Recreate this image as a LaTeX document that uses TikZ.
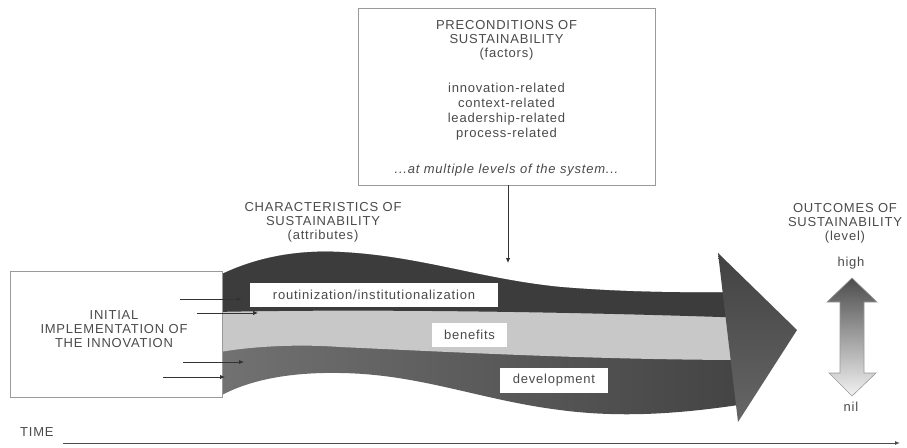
\documentclass[tikz,border=0pt]{standalone}
\usepackage{fontspec}
\setmainfont[LetterSpace=6]{Liberation Sans}
\usetikzlibrary{arrows.meta}
\definecolor{txt}{HTML}{4A4A4A}
\definecolor{boxline}{HTML}{9A9A9A}
\definecolor{topdark}{HTML}{3C3C3C}
\definecolor{topmid}{HTML}{555555}
\definecolor{lightband}{HTML}{C8C8C8}
\definecolor{botleft}{HTML}{727272}
\definecolor{botright}{HTML}{434343}
\tikzset{
  lbl/.style={text=txt, font=\fontsize{13}{14}\selectfont, align=center, inner sep=0pt},
  framebox/.style={draw=boxline, line width=0.9pt, fill=white, inner sep=0pt},
  tagbox/.style={fill=white, inner sep=0pt, text=txt, font=\fontsize{13}{14}\selectfont},
  smallarrow/.style={draw=black!80, line width=0.8pt, -{Latex[length=5pt,width=4.5pt]}},
}
\begin{document}
\begin{tikzpicture}[x=1pt, y=-1pt]
\useasboundingbox (0,0) rectangle (907,447);

% preconditions box
\node[framebox, minimum width=297pt, minimum height=177pt] (pre) at (506.5,96.5) {};
\node[lbl] (preTitle) at (506.5,40) {PRECONDITIONS OF\\SUSTAINABILITY\\(factors)};
\node[lbl, font=\fontsize{13}{15}\selectfont] (preList) at (506.5,112) {innovation-related\\context-related\\leadership-related\\process-related};
\node[lbl] (preLevels) at (506.5,170) {\itshape ...at multiple levels of the system...};
\coordinate (preTip) at (508,263);
\draw[smallarrow] (pre.south -| preTip) -- (preTip);

% big arrow body
\begin{scope}
\clip (222,274) .. controls (260,256) and (300,250) .. (340,252) .. controls (420,256) and (480,279) .. (560,287) .. controls (620,292) and (680,293) .. (745,292) -- (745,404) .. controls (680,414) and (620,418) .. (560,410) .. controls (480,400) and (420,374) .. (340,373) .. controls (290,372) and (250,380) .. (222,395) -- cycle;
\shade[left color=botleft, right color=botright] (215,240) rectangle (750,430);
\fill[lightband] (215,240) -- (215,353) .. controls (250,346) and (300,344) .. (340,347) .. controls (450,352) and (600,360) .. (750,360) -- (750,240) -- cycle;
\begin{scope}
\clip (215,240) -- (215,312) .. controls (350,309) and (550,311) .. (750,318) -- (750,240) -- cycle;
\shade[left color=topdark, middle color=topmid, right color=topdark] (215,240) rectangle (750,330);
\end{scope}
\end{scope}
% arrowhead
\shade[top color=black!74, bottom color=black!60] (718,253) -- (797,330) -- (738,422) -- cycle;

% label boxes on bands
\node[tagbox, minimum width=248pt, minimum height=24pt] (rout) at (374,295) {routinization/institutionalization};
\node[tagbox, minimum width=75pt, minimum height=24pt] (ben) at (469.5,335) {benefits};
\node[tagbox, minimum width=108pt, minimum height=25pt] (dev) at (554,380.5) {development};

% initial implementation box
\node[framebox, fill=none, minimum width=212pt, minimum height=126pt] (init) at (116,334) {};
\node[lbl] (initText) at (114,329) {INITIAL\\IMPLEMENTATION OF\\THE INNOVATION};
\coordinate (a1s) at (180,299); \coordinate (a1e) at (242,299);
\coordinate (a2s) at (197,313); \coordinate (a2e) at (258,313);
\coordinate (a3s) at (183,362); \coordinate (a3e) at (244,362);
\coordinate (a4s) at (163,377); \coordinate (a4e) at (225,377);
\draw[smallarrow] (a1s) -- (a1e);
\draw[smallarrow] (a2s) -- (a2e);
\draw[smallarrow] (a3s) -- (a3e);
\draw[smallarrow] (a4s) -- (a4e);

% characteristics
\node[lbl] (charText) at (323,222) {CHARACTERISTICS OF\\SUSTAINABILITY\\(attributes)};

% outcomes
\node[lbl] (outText) at (845,223) {OUTCOMES OF\\SUSTAINABILITY\\(level)};
\node[lbl] (high) at (851,263) {high};
\node[lbl] (nil) at (851,407) {nil};
\shade[top color=black!70, bottom color=black!5, draw=black!40, line width=0.6pt]
  (852,278) -- (877,302) -- (864,302) -- (864,373) -- (876,373) -- (852,396) -- (829,373) -- (840,373) -- (840,302) -- (827,302) -- cycle;

% time axis
\node[lbl, anchor=west] (time) at (20,432) {TIME};
\coordinate (t0) at (63,443);
\coordinate (t1) at (900,443);
\draw[draw=black!70, line width=1pt, -{Latex[length=5pt,width=4pt]}] (t0) -- (t1);
\end{tikzpicture}
\end{document}
